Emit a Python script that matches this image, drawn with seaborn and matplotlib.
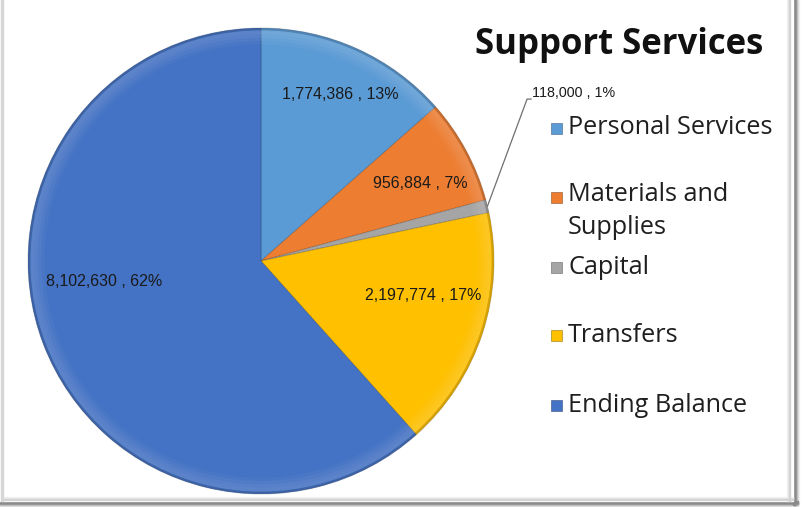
import matplotlib
matplotlib.use("Agg")
import matplotlib.pyplot as plt
import matplotlib.patches as mpatches
import numpy as np
import seaborn as sns

# Budget breakdown for the Support Services fund
categories = ["Personal Services", "Materials and\nSupplies", "Capital",
              "Transfers", "Ending Balance"]
amounts = [1774386, 956884, 118000, 2197774, 8102630]
percent_labels = ["13%", "7%", "1%", "17%", "62%"]
colors = ["#5B9BD5", "#ED7D31", "#A5A5A5", "#FFC000", "#4472C4"]
title = "Support Services"

sns.set_theme(style="white")
plt.rcParams["font.family"] = ["Open Sans", "DejaVu Sans"]

W, H = 802, 507
fig = plt.figure(figsize=(W / 100, H / 100), dpi=100)
fig.patch.set_facecolor("white")


def px_rect(x0, y0, x1, y1, **kw):
    return mpatches.Rectangle((x0 / W, 1 - y1 / H), (x1 - x0) / W, (y1 - y0) / H,
                              transform=fig.transFigure, **kw)


# Frame with a soft drop shadow on the right and bottom
for i, c in enumerate(["#f2f2f2", "#e2e2e2", "#c8c8c8", "#9a9a9a", "#8a8a8a"]):
    fig.patches.append(px_rect(797 - i, 0, 798 - i + 1, 505, color=c, zorder=0))
    fig.patches.append(px_rect(0, 505 - i, 798, 506 - i + 1, color=c, zorder=0))
fig.patches.append(px_rect(0, 0, 793, 501, color="white", zorder=0))
fig.patches.append(px_rect(1, 0, 3, 501, color="#d6d6d6", zorder=0.5))
for i, c in enumerate(["#f4f4f4", "#e6e6e6", "#d4d4d4"]):
    fig.patches.append(px_rect(787 + i, 0, 788 + i, 501, color=c, zorder=0.5))
    fig.patches.append(px_rect(4, 497 + i, 793, 498 + i, color=c, zorder=0.5))

# Pie axes: centre (261, 261) px, radius 233 px
cx, cy, r = 261, 261, 233
ax = fig.add_axes([(cx - r) / W, (H - cy - r) / H, 2 * r / W, 2 * r / H])
ax.set_zorder(2)
ax.set_facecolor("none")

wedges, _ = ax.pie(amounts, colors=colors, startangle=90, counterclock=False,
                   radius=1.0, wedgeprops=dict(linewidth=0.7, edgecolor="#00000030"))
# Soft bevel: a light band fading inward from the rim, dark outer edge
lighter = [sns.light_palette(c, 4, reverse=True)[1] for c in colors]
for rr, a in [(0.99, 0.42), (0.975, 0.34), (0.96, 0.22), (0.945, 0.10)]:
    ax.pie(amounts, colors=lighter, startangle=90, counterclock=False, radius=rr,
           wedgeprops=dict(width=0.016, linewidth=0, alpha=a))
ax.pie(amounts, colors=[sns.dark_palette(c, 4)[2] for c in colors], startangle=90,
       counterclock=False, radius=1.0, wedgeprops=dict(width=0.01, linewidth=0, alpha=0.6))
ax.set_xlim(-1, 1)
ax.set_ylim(-1, 1)
ax.set_aspect("equal")
ax.axis("off")

# Data labels, "value , pct"
label_font = dict(family=["Liberation Sans", "DejaVu Sans"], fontsize=11.5, color="#1a1a1a")
texts = [f"{v:,} , {p}" for v, p in zip(amounts, percent_labels)]
# radius and angle nudges (degrees) for each label relative to wedge middle
nudges = [(0.79, -1.2), (0.76, -2.2), (None, 0.0), (0.71, 6.0), (0.68, -13.5)]
for w, t, (rad, dang) in zip(wedges, texts, nudges):
    mid = np.deg2rad((w.theta1 + w.theta2) / 2)
    if rad is None:
        # small slice: leader line out to the upper right
        x0, y0 = np.cos(mid), np.sin(mid)
        ex, ey = 1.142, 0.695
        ax.plot([x0, ex, 1.16], [y0, ey, ey], color="#6f6f6f", lw=0.9, clip_on=False)
        ax.text(1.165, 0.721, t, ha="left", va="center", clip_on=False,
                **{**label_font, "fontsize": 10.3})
        continue
    a = mid + np.deg2rad(dang)
    ax.text(rad * np.cos(a), rad * np.sin(a), t, ha="center", va="center", **label_font)

# Title
fig.text(619 / W, 1 - 45 / H, title, ha="center", va="center",
         fontsize=25, fontweight="bold", color="#111111")

# Legend
legend_rows = [128, 197, 267, 335, 405]
for cat, col, y in zip(categories, colors, legend_rows):
    fig.patches.append(px_rect(551, y - 5, 562, y + 6, facecolor=col,
                               edgecolor=sns.dark_palette(col, 3)[1], lw=0.4, zorder=3))
    if "\n" in cat:
        fig.text(568 / W, 1 - (y - 15) / H, cat, ha="left", va="top",
                 fontsize=18.2, color="#1f1f1f", linespacing=1.4)
    else:
        fig.text(568 / W, 1 - y / H, cat, ha="left", va="center",
                 fontsize=18.2, color="#1f1f1f")

fig.savefig("out.png", dpi=100)
